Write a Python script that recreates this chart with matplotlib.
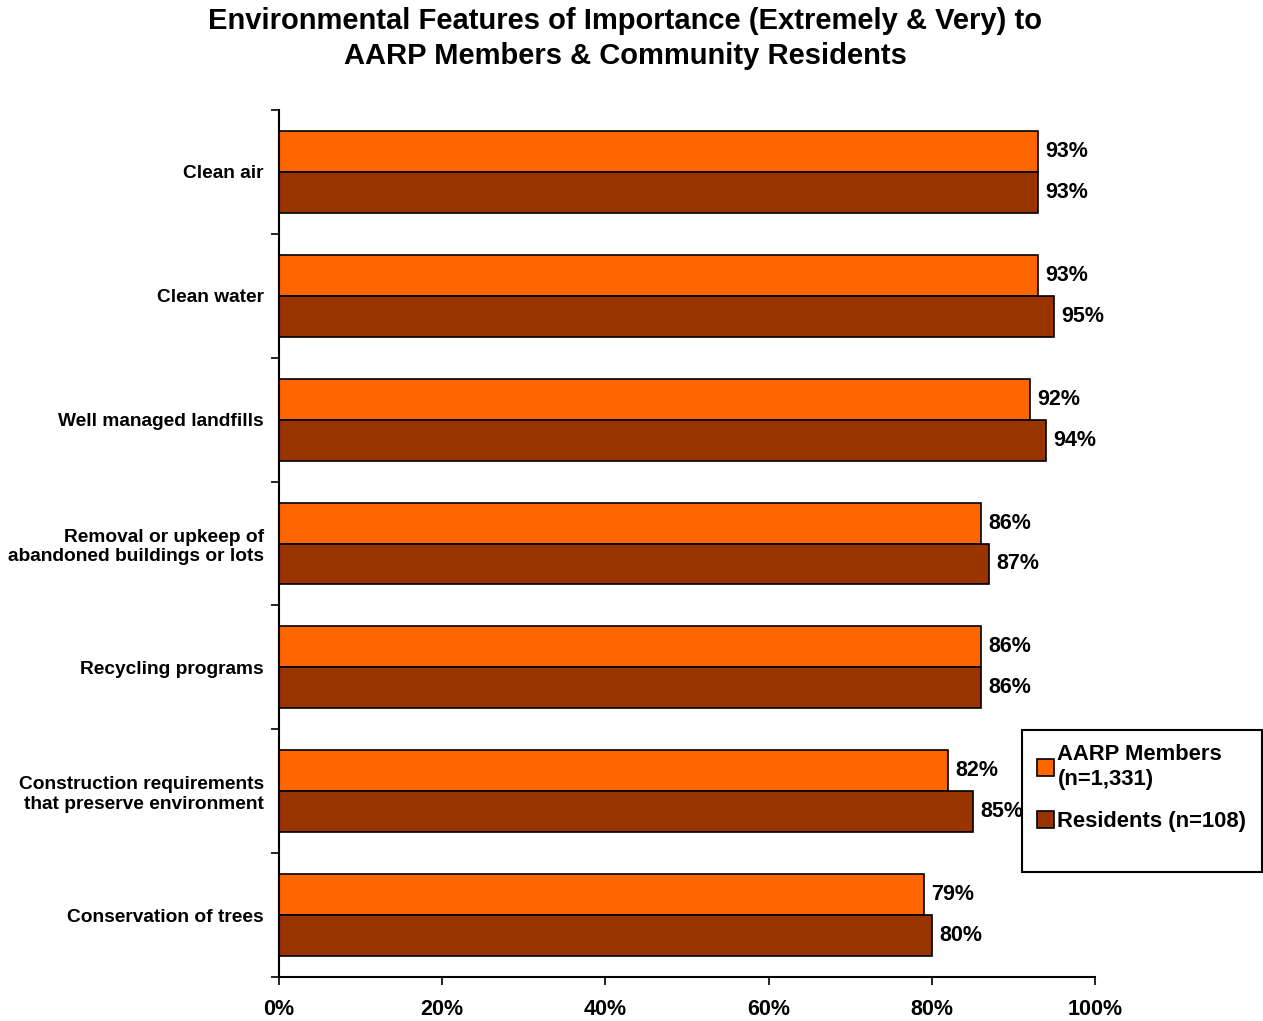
import numpy as np
import matplotlib.pyplot as plt
from matplotlib.patches import Rectangle
from matplotlib.ticker import FixedLocator

plt.rcParams["font.family"] = ["Liberation Sans", "DejaVu Sans"]
plt.rcParams["font.weight"] = "bold"

categories = [
    "Clean air",
    "Clean water",
    "Well managed landfills",
    "Removal or upkeep of\nabandoned buildings or lots",
    "Recycling programs",
    "Construction requirements\nthat preserve environment",
    "Conservation of trees",
]
aarp = [93, 93, 92, 86, 86, 82, 79]
residents = [93, 95, 94, 87, 86, 85, 80]
series_labels = ["AARP Members\n(n=1,331)", "Residents (n=108)"]
colors = ["#FF6600", "#993300"]
x_ticks = [0, 20, 40, 60, 80, 100]

W, H = 1263, 1021
fig = plt.figure(figsize=(W / 100, H / 100), dpi=100)
ax = fig.add_axes([279 / W, 1 - 977 / H, (1095 - 279) / W, (977 - 110) / H])

n = len(categories)
y = np.arange(n)
h = 0.33
bars_a = ax.barh(y - h / 2, aarp, height=h, color=colors[0], edgecolor="black",
                 linewidth=1.2, label=series_labels[0])
bars_r = ax.barh(y + h / 2, residents, height=h, color=colors[1], edgecolor="black",
                 linewidth=1.2, label=series_labels[1])

for bars, vals in [(bars_a, aarp), (bars_r, residents)]:
    for b, v in zip(bars, vals):
        ax.text(v + 0.9, b.get_y() + b.get_height() / 2, f"{v}%", va="center",
                ha="left", fontsize=15.5, fontweight="bold")

ax.set_ylim(n - 0.5, -0.5)
ax.set_xlim(0, 100)
ax.set_yticks(y)
ax.set_yticklabels(categories, fontsize=13.8, fontweight="bold", ha="right")
ax.yaxis.set_minor_locator(FixedLocator(np.arange(-0.5, n, 1.0)))
ax.tick_params(axis="y", which="major", length=0, pad=11)
ax.tick_params(axis="y", which="minor", length=6, width=1.2, direction="out")
ax.set_xticks(x_ticks)
ax.set_xticklabels([f"{t}%" for t in x_ticks], fontsize=15.5, fontweight="bold")
ax.tick_params(axis="x", length=6, width=1.2, direction="out", pad=10)

for side in ["top", "right"]:
    ax.spines[side].set_visible(False)
for side in ["left", "bottom"]:
    ax.spines[side].set_linewidth(1.5)

fig.suptitle("Environmental Features of Importance (Extremely & Very) to\n"
             "AARP Members & Community Residents",
             fontsize=21, fontweight="bold", x=0.495, y=0.993, linespacing=1.3)

# legend box drawn separately so it matches the taller frame
fig.patches.append(Rectangle((1022 / W, 1 - 872 / H), (1262 - 1022) / W, (872 - 730) / H,
                             transform=fig.transFigure, facecolor="white",
                             edgecolor="black", linewidth=1.5, zorder=5))
leg = fig.legend(loc="upper left", bbox_to_anchor=(1030 / W, 1 - 737 / H),
                 fontsize=15.8, frameon=False,
                 handlelength=0.8, handleheight=0.8, handletextpad=0.15,
                 borderpad=0.3, labelspacing=0.95, borderaxespad=0)
leg.set_zorder(6)
for t in leg.get_texts():
    t.set_fontweight("bold")
    t.set_linespacing(1.3)

fig.savefig("out.png", dpi=100)
